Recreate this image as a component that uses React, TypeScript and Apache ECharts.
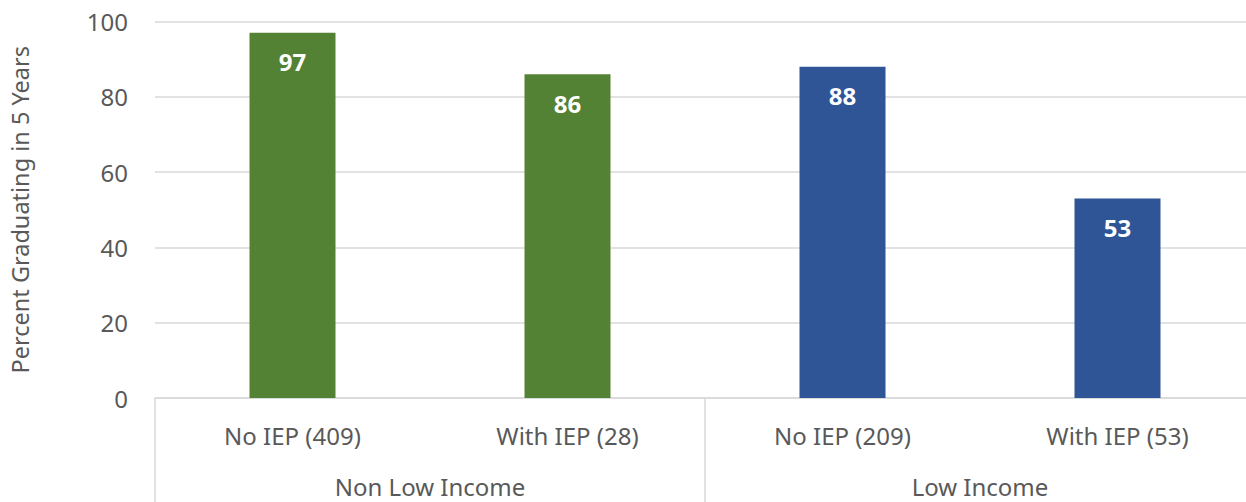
import React, { useEffect, useRef } from "react";
import * as echarts from "echarts";

const categories = ["No IEP (409)", "With IEP (28)", "No IEP (209)", "With IEP (53)"];
const groups = ["Non Low Income", "Low Income"];
const values = [97, 86, 88, 53];
const barColors = ["#548235", "#548235", "#2F5597", "#2F5597"];
const yTicks = { min: 0, max: 100, interval: 20 };
const yTitle = "Percent Graduating in 5 Years";

export default function App() {
  const ref = useRef<HTMLDivElement>(null);
  useEffect(() => {
    if (!ref.current) return;
    const chart = echarts.init(ref.current, undefined, { renderer: "svg" });
    const font = "'Noto Sans', sans-serif";
    chart.setOption({
      animation: false,
      grid: { left: 155, top: 21.5, right: -9, bottom: 104, containLabel: false, outerBoundsMode: "none" },
      xAxis: [
        {
          type: "category",
          data: categories,
          position: "bottom",
          axisLine: { show: true, lineStyle: { color: "#d9d9d9", width: 1.5 } },
          axisTick: { show: false },
          axisLabel: { color: "#595959", fontSize: 24, fontFamily: font, margin: 25, interval: 0 },
        },
        {
          type: "category",
          data: groups,
          position: "bottom",
          axisLine: { show: false },
          axisTick: { show: true, length: 104, interval: 0, lineStyle: { color: "#d9d9d9", width: 1.5 } },
          axisLabel: { color: "#595959", fontSize: 24, fontFamily: font, margin: 76, interval: 0 },
        },
      ],
      yAxis: {
        type: "value",
        min: yTicks.min,
        max: yTicks.max,
        interval: yTicks.interval,
        name: yTitle,
        nameLocation: "middle",
        nameGap: 123,
        nameTextStyle: { color: "#595959", fontSize: 23.5, fontFamily: font },
        axisLine: { show: false },
        axisTick: { show: false },
        splitLine: { lineStyle: { color: "#d9d9d9", width: 1.5 } },
        axisLabel: { color: "#595959", fontSize: 24, fontFamily: font, margin: 27 },
      },
      series: [
        {
          type: "bar",
          xAxisIndex: 0,
          barWidth: 86,
          data: values.map((v, i) => ({ value: v, itemStyle: { color: barColors[i] } })),
          label: {
            show: true,
            position: "insideTop",
            distance: 17,
            color: "#ffffff",
            fontWeight: "bold",
            fontSize: 24,
            fontFamily: font,
          },
        },
      ],
    });
    return () => chart.dispose();
  }, []);
  return (
    <div
      ref={ref}
      style={{ position: "absolute", left: 0, top: 0, width: 1246, height: 502, background: "#fff" }}
    />
  );
}
